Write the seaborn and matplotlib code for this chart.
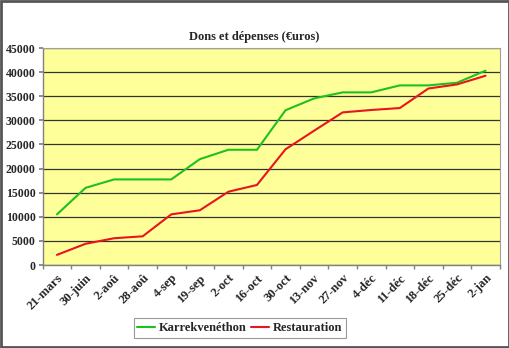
import matplotlib
matplotlib.use("Agg")
import matplotlib.pyplot as plt
import seaborn as sns
import pandas as pd
import numpy as np
from matplotlib.patches import Rectangle

categories = ["21-mars", "30-juin", "2-aoû", "28-aoû", "4-sep", "19-sep", "2-oct", "16-oct",
              "30-oct", "13-nov", "27-nov", "4-déc", "11-déc", "18-déc", "25-déc", "2-jan"]
karrek = [10500, 16000, 17750, 17750, 17750, 21950, 23900, 23900,
          32100, 34550, 35800, 35800, 37250, 37250, 37800, 40300]
restau = [2100, 4400, 5550, 5950, 10500, 11350, 15200, 16600,
          24000, 27850, 31650, 32150, 32550, 36600, 37450, 39250]
series_names = ["Karrekvenéthon", "Restauration"]
title = "Dons et dépenses (€uros)"

sns.set_theme(style="white")
plt.rcParams['font.family'] = ['Liberation Serif', 'DejaVu Serif']
plt.rcParams['font.weight'] = 'bold'

df = pd.DataFrame({
    "pos": list(range(len(categories))) * 2,
    "value": karrek + restau,
    "serie": [series_names[0]] * len(categories) + [series_names[1]] * len(categories),
})

fig = plt.figure(figsize=(5.10, 3.48), dpi=100)
ax = fig.add_axes([0.0837, 0.2385, 0.8963, 0.6235])
ax.set_facecolor("#FFFF99")

sns.lineplot(data=df, x="pos", y="value", hue="serie",
             palette={series_names[0]: "#1EC01E", series_names[1]: "#E8141E"},
             linewidth=1.5, ax=ax, legend=False)

n = len(categories)
ax.set_xlim(-0.5, n - 0.5)
ax.set_ylim(0, 45000)
ax.set_yticks(np.arange(0, 45001, 5000))
ax.set_yticklabels([str(v) for v in range(0, 45001, 5000)], fontsize=8.5, fontweight='bold')
ax.set_xticks(range(n))
ax.set_xticklabels(categories, rotation=45, ha='right', rotation_mode='anchor',
                   fontsize=9.2, fontweight='bold')
ax.set_xticks(np.arange(-0.5, n, 1.0), minor=True)
ax.tick_params(axis='x', which='major', length=0, pad=5)
ax.tick_params(axis='x', which='minor', length=3, color='#808080', bottom=True)
ax.tick_params(axis='y', length=3, color='#808080', left=True, pad=2)
ax.set_xlabel("")
ax.set_ylabel("")
ax.yaxis.grid(True, color="#333333", linewidth=0.9)
ax.set_axisbelow(True)
for s in ["left", "bottom"]:
    ax.spines[s].set_color("#808080")
    ax.spines[s].set_linewidth(1.0)
for s in ["top", "right"]:
    ax.spines[s].set_color("#A0A0A0")
    ax.spines[s].set_linewidth(0.8)

ax.set_title(title, fontsize=9, fontweight='bold', pad=6, x=0.462)

handles = [plt.Line2D([], [], color="#1EC01E", linewidth=1.5),
           plt.Line2D([], [], color="#E8141E", linewidth=1.5)]
leg = fig.legend(handles, series_names, loc='center', bbox_to_anchor=(0.47, 0.057),
                 ncol=2, frameon=True, fancybox=False,
                 handlelength=1.4, handletextpad=0.3, columnspacing=0.4,
                 borderpad=0.3, prop={'weight': 'bold', 'size': 9})
leg.get_frame().set_edgecolor("#808080")
leg.get_frame().set_linewidth(0.8)

fig.patches.append(Rectangle((0.002, 0.003), 0.996, 0.994, transform=fig.transFigure,
                             fill=False, edgecolor="#555555", linewidth=2))

fig.savefig("out.png", dpi=100)
